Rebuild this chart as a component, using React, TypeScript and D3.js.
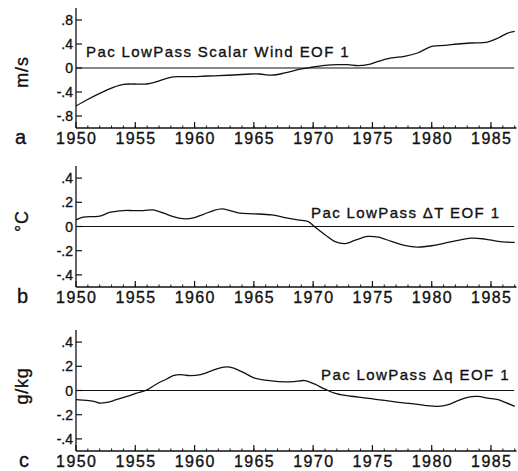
import React from "react";
import * as d3 from "d3";

const windYears = [1950, 1950.9, 1952.0, 1953.15, 1954.0, 1954.8, 1955.96, 1956.8, 1957.65, 1958.5, 1959.9, 1961.0, 1963.3, 1964.7, 1965.5, 1966.5, 1967.6, 1968.7, 1969.8, 1971.0, 1972.1, 1972.9, 1973.8, 1974.6, 1975.5, 1976.6, 1977.7, 1978.8, 1980.0, 1981.1, 1982.2, 1983.3, 1984.7, 1985.6, 1986.4, 1987.0];
const windValues = [-0.633, -0.533, -0.422, -0.322, -0.272, -0.267, -0.267, -0.228, -0.172, -0.145, -0.145, -0.133, -0.117, -0.1, -0.1, -0.12, -0.083, -0.028, 0.011, 0.044, 0.055, 0.055, 0.039, 0.055, 0.11, 0.167, 0.194, 0.25, 0.36, 0.378, 0.4, 0.417, 0.433, 0.5, 0.583, 0.61];

const dtYears = [1950, 1950.6, 1951.5, 1952.0, 1952.9, 1954.0, 1954.8, 1955.7, 1956.5, 1957.4, 1958.2, 1959.2, 1959.9, 1960.7, 1961.6, 1962.3, 1963.0, 1963.8, 1965.0, 1966.5, 1967.6, 1968.7, 1969.6, 1970.1, 1971.0, 1971.8, 1972.7, 1973.5, 1974.6, 1975.5, 1976.6, 1977.7, 1978.8, 1980.0, 1981.1, 1982.2, 1983.3, 1984.5, 1985.6, 1987.0];
const dtValues = [0.055, 0.077, 0.082, 0.085, 0.118, 0.132, 0.132, 0.132, 0.137, 0.11, 0.082, 0.063, 0.071, 0.099, 0.132, 0.145, 0.132, 0.11, 0.105, 0.096, 0.074, 0.055, 0.041, 0.0, -0.068, -0.123, -0.142, -0.115, -0.082, -0.088, -0.123, -0.156, -0.17, -0.159, -0.137, -0.115, -0.096, -0.104, -0.123, -0.132];

const dqYears = [1950, 1950.9, 1951.5, 1952.0, 1952.6, 1953.4, 1954.3, 1955.1, 1956.0, 1956.8, 1957.65, 1958.2, 1958.8, 1959.6, 1960.5, 1961.3, 1962.1, 1962.7, 1963.3, 1964.1, 1965.0, 1966.5, 1967.6, 1968.4, 1969.3, 1970.1, 1971.0, 1971.8, 1972.7, 1973.8, 1974.9, 1976.0, 1977.2, 1978.3, 1979.4, 1980.5, 1981.4, 1982.2, 1983.1, 1983.9, 1984.7, 1985.6, 1986.2, 1987.0];
const dqValues = [-0.076, -0.082, -0.09, -0.104, -0.098, -0.076, -0.049, -0.022, 0.005, 0.054, 0.095, 0.123, 0.131, 0.123, 0.131, 0.158, 0.185, 0.196, 0.185, 0.15, 0.105, 0.079, 0.071, 0.074, 0.082, 0.054, 0.011, -0.022, -0.041, -0.054, -0.068, -0.082, -0.098, -0.109, -0.123, -0.131, -0.117, -0.084, -0.054, -0.049, -0.063, -0.076, -0.098, -0.131];

const yearTicks = [1950, 1955, 1960, 1965, 1970, 1975, 1980, 1985];
const yearMinor = d3.range(1951, 1988);
const windTicks = [0.8, 0.4, 0, -0.4, -0.8];
const windTickLabels = [".8", ".4", "0", "-.4", "-.8"];
const smallTicks = [0.4, 0.2, 0, -0.2, -0.4];
const smallTickLabels = [".4", ".2", "0", "-.2", "-.4"];

const panelTitles = ["Pac LowPass Scalar Wind EOF 1", "Pac LowPass \u0394T EOF 1", "Pac LowPass \u0394q EOF 1"];
const unitLabels = ["m/s", "\u00b0C", "g/kg"];
const panelLetters = ["a", "b", "c"];

const FONT = "'Liberation Sans', Arial, Helvetica, sans-serif";
const INK = "#111";
const TS = 0.35; // text stroke to mimic scanned print weight

const x = d3.scaleLinear().domain([1950, 1987.15]).range([76, 516.5]);

type Panel = {
  years: number[];
  values: number[];
  domain: [number, number];
  top: number;
  bottom: number;
  ticks: number[];
  tickLabels: string[];
  title: string;
  titleX: number;
  titleY: number;
  unit: string;
  unitY: number;
  letter: string;
  letterX: number;
};

const panels: Panel[] = [
  { years: windYears, values: windValues, domain: [-1, 1], top: 8, bottom: 128, ticks: windTicks, tickLabels: windTickLabels, title: panelTitles[0], titleX: 86, titleY: 57, unit: unitLabels[0], unitY: 72, letter: panelLetters[0], letterX: 15 },
  { years: dtYears, values: dtValues, domain: [-0.5, 0.5], top: 166, bottom: 287, ticks: smallTicks, tickLabels: smallTickLabels, title: panelTitles[1], titleX: 311, titleY: 218, unit: unitLabels[1], unitY: 221, letter: panelLetters[1], letterX: 17 },
  { years: dqYears, values: dqValues, domain: [-0.5, 0.5], top: 330, bottom: 451, ticks: smallTicks, tickLabels: smallTickLabels, title: panelTitles[2], titleX: 321, titleY: 380, unit: unitLabels[2], unitY: 386, letter: panelLetters[2], letterX: 19 },
];

function PanelView({ p }: { p: Panel }) {
  const y = d3.scaleLinear().domain(p.domain).range([p.bottom, p.top]);
  const pts: [number, number][] = p.years.map((yr, i) => [yr, p.values[i]]);
  const line = d3
    .line<[number, number]>()
    .x((d) => x(d[0]))
    .y((d) => y(d[1]))
    .curve(d3.curveCatmullRom.alpha(0.5));
  const x0 = x.range()[0];
  const x1 = x.range()[1];
  const textProps = { fontFamily: FONT, fill: INK, stroke: INK, strokeWidth: TS };
  return (
    <g>
      <line x1={x0} x2={x0} y1={p.top} y2={p.bottom} stroke={INK} strokeWidth={1.3} />
      <line x1={x0} x2={x1} y1={p.bottom} y2={p.bottom} stroke={INK} strokeWidth={1.3} />
      <line x1={x0} x2={x(1986.95)} y1={y(0)} y2={y(0)} stroke={INK} strokeWidth={1.1} />
      {p.ticks.map((t, i) => (
        <g key={"yt" + i}>
          <line x1={x0} x2={x0 + 6} y1={y(t)} y2={y(t)} stroke={INK} strokeWidth={1.2} />
          <text x={73} y={y(t)} dy="0.36em" textAnchor="end" fontSize={14} {...textProps}>
            {p.tickLabels[i]}
          </text>
        </g>
      ))}
      {yearMinor.map((t) => (
        <line key={"xm" + t} x1={x(t)} x2={x(t)} y1={p.bottom} y2={p.bottom - 2.5} stroke={INK} strokeWidth={1} />
      ))}
      {yearTicks.map((t) => (
        <g key={"xt" + t}>
          <line x1={x(t)} x2={x(t)} y1={p.bottom} y2={p.bottom - 6} stroke={INK} strokeWidth={1.2} />
          <text x={x(t) + 0.7} y={p.bottom + 15.5} textAnchor="middle" fontSize={16} letterSpacing={1.4} {...textProps}>
            {t}
          </text>
        </g>
      ))}
      <path d={line(pts) || ""} fill="none" stroke={INK} strokeWidth={1.3} />
      <text x={p.titleX} y={p.titleY} fontSize={15} letterSpacing={1.4} {...textProps}>
        {p.title}
      </text>
      <text transform={`translate(28,${p.unitY}) rotate(-90)`} textAnchor="middle" fontSize={18} letterSpacing={0.8} {...textProps}>
        {p.unit}
      </text>
      <text x={p.letterX} y={p.bottom + 15.5} fontSize={20} {...textProps}>
        {p.letter}
      </text>
    </g>
  );
}

export default function App() {
  return (
    <svg
      width={518}
      height={471}
      viewBox="0 0 518 471"
      style={{ position: "fixed", left: 0, top: 0, background: "#fff" }}
    >
      <rect width={518} height={471} fill="#fff" />
      {panels.map((p, i) => (
        <PanelView key={i} p={p} />
      ))}
    </svg>
  );
}
